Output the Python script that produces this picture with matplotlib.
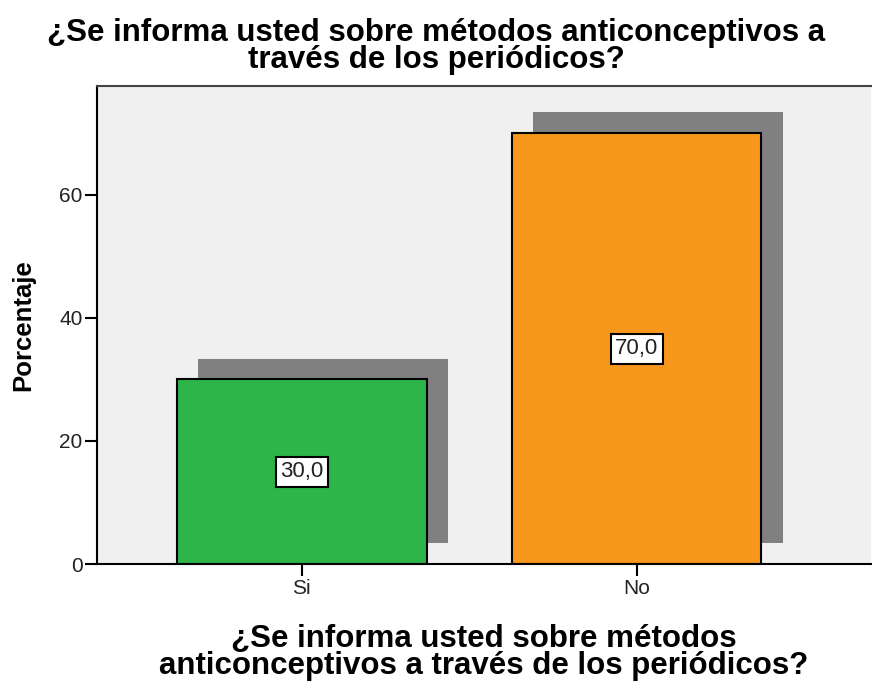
import matplotlib.pyplot as plt

plt.rcParams['font.family'] = ['Liberation Sans', 'DejaVu Sans']

categorias = ['Si', 'No']
porcentajes = [30.0, 70.0]
etiquetas = ['30,0', '70,0']
colores = ['#2db54a', '#f7981d']

fig = plt.figure(figsize=(8.72, 6.86), dpi=100)
ax = fig.add_axes([0.1112, 0.1778, 0.8876, 0.6968])
ax.set_facecolor('#f0f0f0')

x = list(range(len(categorias)))
ancho = 0.746
dx, dy = 0.063, 3.4  # desplazamiento de la sombra

# sombra
ax.bar([i + dx for i in x], porcentajes, width=ancho, bottom=dy,
       color='#808080', zorder=1)
# barras
ax.bar(x, porcentajes, width=ancho, color=colores, edgecolor='black',
       linewidth=1.5, zorder=2)

for i, v in enumerate(porcentajes):
    ax.text(x[i], v / 2, etiquetas[i], ha='center', va='center', fontsize=16,
            color='#222222', zorder=3,
            bbox=dict(boxstyle='square,pad=0.2', fc='white', ec='black', lw=1.5))

ax.set_xlim(-0.612, 1.70)
ax.set_ylim(0, 77.7)
ax.set_xticks(x)
ax.set_xticklabels(categorias)
ax.set_yticks([0, 20, 40, 60])
ax.tick_params(axis='both', labelsize=15, length=8.5, width=1.5,
               direction='out', labelcolor='#222222', pad=2)

for s in ['left', 'bottom']:
    ax.spines[s].set_linewidth(1.5)
    ax.spines[s].set_color('black')
ax.spines['top'].set_color('#444444')
ax.spines['top'].set_linewidth(1.5)
ax.spines['right'].set_visible(False)

ax.set_ylabel('Porcentaje', fontsize=18.5, fontweight='bold')
ax.yaxis.set_label_coords(-0.08, 0.5)
ax.set_xlabel('¿Se informa usted sobre métodos\nanticonceptivos a través de los periódicos?',
              fontsize=22.5, fontweight='bold', linespacing=0.9)
ax.xaxis.set_label_coords(0.5, -0.125)
fig.text(0.5006, 0.932,
         '¿Se informa usted sobre métodos anticonceptivos a\ntravés de los periódicos?',
         ha='center', va='center', fontsize=22.5, fontweight='bold', linespacing=0.9)

fig.savefig('out.png', dpi=100)
